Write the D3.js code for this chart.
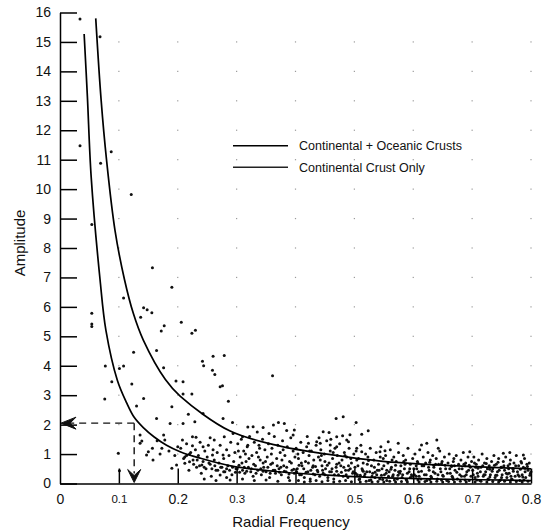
<!DOCTYPE html>
<html>
<head>
<meta charset="utf-8">
<script src="https://cdn.jsdelivr.net/npm/d3@7"></script>
<style>
  body { margin: 0; background: #fff; }
  svg { display: block; font-family: "Liberation Sans", Arial, sans-serif; }
</style>
</head>
<body>
<svg id="chart" width="547" height="532"></svg>
<script>
// values
const xTicks = [0, 0.1, 0.2, 0.3, 0.4, 0.5, 0.6, 0.7, 0.8];
const yTicks = d3.range(0, 17);

// Continental + Oceanic Crusts (outer curve)
const outerCurve = [
    [0.0607, 15.8], [0.0698, 13.04], [0.079, 11.0], [0.0934, 8.6], [0.1095, 6.93],
    [0.1245, 5.78], [0.1415, 4.87], [0.179, 3.53], [0.204, 2.97], [0.289, 1.78],
    [0.374, 1.27], [0.46, 0.98], [0.545, 0.76], [0.64, 0.63], [0.8, 0.5]
];

// Continental Crust Only (inner curve)
const innerCurve = [
    [0.041, 15.27], [0.0465, 13.15], [0.053, 10.4], [0.068, 6.93], [0.078, 5.2],
    [0.0975, 3.5], [0.113, 2.75], [0.126, 2.25], [0.1415, 1.9], [0.16, 1.58],
    [0.181, 1.3], [0.204, 1.08], [0.238, 0.86], [0.29, 0.6], [0.37, 0.4],
    [0.47, 0.27], [0.545, 0.2], [0.65, 0.15], [0.8, 0.1]
];

// the dashed read-off arrow
const arrowPoint = [0.126, 2.05];

const legendNames = ["Continental + Oceanic Crusts", "Continental Crust Only"];

// scatter of observed amplitudes
const sparsePoints = [
    [0.034,15.78],[0.068,15.18],[0.034,11.47],[0.087,11.27],[0.069,10.88],[0.121,9.82],[0.054,8.8],
    [0.157,7.33],[0.19,6.67],[0.108,6.3],[0.142,5.97],[0.148,5.9],[0.156,5.8],[0.054,5.78],[0.137,5.65],
    [0.054,5.42],[0.054,5.33],[0.177,5.36],[0.206,5.48],[0.172,5.18],[0.23,5.21],[0.224,5.1],[0.125,4.46],
    [0.164,4.52],[0.242,4.15],[0.244,4.0],[0.26,4.32],[0.279,4.35],[0.259,3.85],[0.263,3.7],[0.077,3.99],
    [0.101,3.91],[0.108,3.99],[0.176,3.93],[0.361,3.66],[0.197,3.48],[0.209,3.46],[0.276,3.32],[0.209,3.04],
    [0.224,3.04],[0.286,2.79],[0.076,2.87],[0.122,3.38],[0.088,3.46],[0.142,2.89],[0.13,2.63],[0.164,2.21],
    [0.19,2.61],[0.272,3.29],[0.243,2.38],[0.218,2.35],[0.277,2.21],[0.293,2.07],[0.229,2.1],[0.187,2.04],
    [0.209,2.04],[0.099,1.03],[0.101,0.43],[0.136,1.37],[0.139,1.44],[0.136,1.65],[0.147,0.97],[0.158,0.8],
    [0.15,1.08],[0.157,1.2],[0.173,1.2],[0.178,1.48],[0.176,1.65],[0.208,1.48],[0.225,1.59],[0.198,0.63],
    [0.19,0.52],[0.212,0.69],[0.22,0.74],[0.241,0.63],[0.272,0.29],[0.259,0.97],[0.277,0.97],[0.231,1.57],
    [0.255,1.55],[0.225,1.28],[0.243,1.25],[0.262,1.48],[0.279,1.59],[0.294,1.7],[0.31,1.59],[0.289,0.12],
    [0.319,1.92],[0.328,1.93],[0.345,1.9],[0.371,2.07],[0.381,2.04],[0.3625,1.99],[0.398,1.82],[0.396,1.65],
    [0.469,2.21],[0.481,2.27],[0.503,2.07],[0.447,1.76],[0.457,1.73],[0.4925,1.66],[0.5125,1.67],[0.5235,1.79],
    [0.47,1.59],[0.5575,1.42],[0.5745,1.37],[0.614,1.31],[0.623,1.37],[0.64,1.48],[0.6425,1.2],[0.696,1.08],
    [0.753,1.03],[0.764,1.05],[0.787,0.97],[0.422,1.37],[0.436,1.42],[0.442,1.37],[0.459,1.31],[0.47,1.25],
    [0.487,1.48],[0.49,1.42],[0.504,1.2],[0.5125,1.08],[0.5435,1.08],[0.552,1.11]
];

const densePoints = [
    // 0.2 - 0.3
    [0.205,1.2],[0.212,0.9],[0.215,1.35],[0.219,0.45],[0.222,1.05],[0.226,0.8],[0.23,1.15],[0.232,0.55],
    [0.235,0.95],[0.238,1.4],[0.24,0.35],[0.243,0.75],[0.246,1.1],[0.248,0.5],[0.25,0.9],[0.252,1.3],
    [0.255,0.65],[0.257,0.25],[0.26,1.15],[0.262,0.8],[0.265,0.45],[0.267,1.05],[0.27,0.7],[0.272,1.3],
    [0.275,0.55],[0.278,0.85],[0.28,0.4],[0.283,1.15],[0.285,0.6],[0.287,0.95],[0.29,1.4],[0.292,0.3],
    [0.295,0.75],[0.297,1.05],[0.299,0.5],[0.245,0.15],[0.265,0.1],[0.283,0.2],
    // 0.3 - 0.4
    [0.302,1.35],[0.304,0.62],[0.306,0.9],[0.308,1.5],[0.31,0.45],[0.312,1.1],[0.314,0.35],[0.316,0.75],
    [0.318,1.25],[0.32,0.55],[0.322,1.6],[0.324,0.4],[0.326,0.95],[0.328,0.25],[0.33,1.4],[0.332,0.6],
    [0.334,1.05],[0.336,0.45],[0.338,1.3],[0.34,0.8],[0.342,0.3],[0.344,1.5],[0.346,0.55],[0.348,1.15],
    [0.35,0.4],[0.352,0.9],[0.354,1.35],[0.356,0.2],[0.358,0.65],[0.36,1.2],[0.362,0.45],[0.364,1.6],
    [0.366,0.35],[0.368,0.85],[0.37,1.3],[0.372,0.5],[0.374,1.05],[0.376,0.3],[0.378,1.45],[0.38,0.6],
    [0.382,0.95],[0.384,0.4],[0.386,1.25],[0.388,0.2],[0.39,0.75],[0.392,1.55],[0.394,0.45],[0.396,1.1],
    [0.398,0.35],[0.31,0.15],[0.33,0.1],[0.35,0.12],[0.37,0.08],[0.39,0.1],[0.335,1.75],[0.355,1.7],
    [0.385,1.8],[0.315,1.0],[0.345,0.7],[0.375,0.55],
    // 0.4 - 0.5
    [0.401,1.2],[0.403,0.5],[0.405,0.85],[0.407,0.3],[0.409,1.4],[0.411,0.6],[0.413,1.05],[0.415,0.2],
    [0.417,0.75],[0.419,1.25],[0.421,0.4],[0.423,0.95],[0.425,0.15],[0.427,1.1],[0.429,0.55],[0.431,0.8],
    [0.433,0.3],[0.435,1.3],[0.437,0.45],[0.439,0.9],[0.441,0.25],[0.443,1.15],[0.445,0.6],[0.447,0.35],
    [0.449,1.0],[0.451,0.5],[0.453,1.45],[0.455,0.2],[0.457,0.7],[0.459,1.1],[0.461,0.4],[0.463,0.85],
    [0.465,0.15],[0.467,1.2],[0.469,0.55],[0.471,0.95],[0.473,0.3],[0.475,1.35],[0.477,0.6],[0.479,0.8],
    [0.481,0.25],[0.483,1.05],[0.485,0.45],[0.487,0.9],[0.489,0.2],[0.491,1.2],[0.493,0.5],[0.495,0.7],
    [0.497,0.35],[0.499,1.0],[0.405,0.1],[0.415,0.05],[0.425,0.08],[0.435,0.1],[0.445,0.06],[0.455,0.1],
    [0.465,0.05],[0.475,0.08],[0.485,0.1],[0.495,0.06],[0.41,0.7],[0.43,0.6],[0.45,0.75],[0.47,0.65],
    [0.49,0.6],[0.42,1.6],[0.44,1.55],[0.46,1.5],[0.48,1.62],
    // 0.5 - 0.6
    [0.501,0.55],[0.503,1.1],[0.505,0.3],[0.507,0.85],[0.509,0.15],[0.511,1.3],[0.513,0.5],[0.515,0.7],
    [0.517,0.25],[0.519,1.0],[0.521,0.4],[0.523,0.9],[0.525,0.1],[0.527,1.2],[0.529,0.6],[0.531,0.35],
    [0.533,0.8],[0.535,0.2],[0.537,1.05],[0.539,0.45],[0.541,0.65],[0.543,0.15],[0.545,1.25],[0.547,0.5],
    [0.549,0.85],[0.551,0.3],[0.553,0.95],[0.555,0.1],[0.557,0.7],[0.559,0.4],[0.561,1.15],[0.563,0.55],
    [0.565,0.25],[0.567,0.9],[0.569,0.45],[0.571,0.75],[0.573,0.15],[0.575,1.05],[0.577,0.35],[0.579,0.6],
    [0.581,0.2],[0.583,0.95],[0.585,0.5],[0.587,0.8],[0.589,0.1],[0.591,1.2],[0.593,0.4],[0.595,0.65],
    [0.597,0.3],[0.599,0.85],[0.51,0.05],[0.52,0.08],[0.53,0.05],[0.54,0.07],[0.55,0.05],[0.56,0.08],
    [0.57,0.05],[0.58,0.07],[0.59,0.05],[0.515,0.42],[0.535,0.38],[0.555,0.45],[0.575,0.4],[0.595,0.2],
    // 0.6 - 0.7
    [0.601,0.5],[0.603,1.0],[0.605,0.25],[0.607,0.75],[0.609,0.4],[0.611,1.15],[0.613,0.15],[0.615,0.6],
    [0.617,0.9],[0.619,0.3],[0.621,0.7],[0.623,0.1],[0.625,1.05],[0.627,0.45],[0.629,0.8],[0.631,0.2],
    [0.633,0.95],[0.635,0.55],[0.637,0.35],[0.639,0.85],[0.641,0.15],[0.643,0.65],[0.645,1.1],[0.647,0.4],
    [0.649,0.75],[0.651,0.25],[0.653,0.9],[0.655,0.5],[0.657,0.1],[0.659,0.7],[0.661,1.0],[0.663,0.35],
    [0.665,0.6],[0.667,0.2],[0.669,0.85],[0.671,0.45],[0.673,0.95],[0.675,0.15],[0.677,0.65],[0.679,0.3],
    [0.681,0.8],[0.683,0.5],[0.685,1.05],[0.687,0.25],[0.689,0.7],[0.691,0.4],[0.693,0.9],[0.695,0.1],
    [0.697,0.55],[0.699,0.75],[0.61,0.05],[0.62,0.07],[0.63,0.05],[0.64,0.08],[0.65,0.05],[0.66,0.07],
    [0.67,0.05],[0.68,0.08],[0.69,0.05],[0.605,0.6],[0.635,0.62],[0.665,0.58],[0.695,0.62],
    // 0.7 - 0.8
    [0.701,0.45],[0.703,0.9],[0.705,0.2],[0.707,0.65],[0.709,0.35],[0.711,0.8],[0.713,0.1],[0.715,0.55],
    [0.717,1.0],[0.719,0.25],[0.721,0.7],[0.723,0.4],[0.725,0.85],[0.727,0.15],[0.729,0.6],[0.731,0.3],
    [0.733,0.75],[0.735,0.5],[0.737,0.95],[0.739,0.2],[0.741,0.65],[0.743,0.4],[0.745,0.85],[0.747,0.1],
    [0.749,0.55],[0.751,0.3],[0.753,0.75],[0.755,0.45],[0.757,0.9],[0.759,0.2],[0.761,0.6],[0.763,0.35],
    [0.765,0.8],[0.767,0.15],[0.769,0.5],[0.771,0.7],[0.773,0.25],[0.775,0.95],[0.777,0.4],[0.779,0.6],
    [0.781,0.1],[0.783,0.75],[0.785,0.3],[0.787,0.55],[0.789,0.85],[0.791,0.2],[0.793,0.65],[0.795,0.45],
    [0.797,0.7],[0.799,0.35],[0.705,0.05],[0.715,0.08],[0.725,0.05],[0.735,0.07],[0.745,0.05],[0.755,0.08],
    [0.765,0.05],[0.775,0.07],[0.785,0.05],[0.795,0.08],[0.71,0.52],[0.73,0.48],[0.75,0.55],[0.77,0.5],
    [0.79,0.52],[0.72,0.3],[0.74,0.28],[0.76,0.32],[0.78,0.25],[0.8,0.4]
];

// the thick band hugging the two curves
const bandPoints = [
    [0.165,1.45],[0.17,1.0],[0.185,1.1],[0.195,0.95],[0.2,1.25],[0.21,0.85],[0.215,0.95],[0.22,1.0],
    [0.227,0.65],[0.233,0.8],[0.237,0.6],[0.245,0.55],[0.253,0.7],[0.258,0.5],[0.263,0.6],[0.268,0.45],
    [0.273,0.55],[0.278,0.4],[0.283,0.5],[0.288,0.45],[0.293,0.55],[0.298,0.38],
    [0.301,0.5],[0.305,0.38],[0.309,0.7],[0.313,0.55],[0.317,0.42],[0.321,0.85],[0.325,0.5],[0.329,0.65],
    [0.333,0.35],[0.337,0.9],[0.341,0.5],[0.345,0.42],[0.349,0.75],[0.353,0.55],[0.357,0.35],[0.361,0.7],
    [0.365,0.45],[0.369,0.6],[0.373,0.38],[0.377,0.8],[0.381,0.42],[0.385,0.55],[0.389,0.32],[0.393,0.7],
    [0.397,0.48],[0.303,1.1],[0.319,1.3],[0.339,1.2],[0.359,1.0],[0.379,1.15],[0.399,0.9],
    [0.402,0.4],[0.406,0.62],[0.41,0.3],[0.414,0.5],[0.418,0.38],[0.422,0.7],[0.426,0.45],[0.43,0.32],
    [0.434,0.58],[0.438,0.4],[0.442,0.8],[0.446,0.45],[0.45,0.3],[0.454,0.62],[0.458,0.4],[0.462,0.5],
    [0.466,0.3],[0.47,0.42],[0.474,0.7],[0.478,0.38],[0.482,0.55],[0.486,0.3],[0.49,0.45],[0.494,0.85],
    [0.498,0.4],[0.404,1.0],[0.424,1.1],[0.444,0.95],[0.464,1.05],[0.484,0.95],
    [0.502,0.35],[0.506,0.6],[0.51,0.28],[0.514,0.45],[0.518,0.32],[0.522,0.65],[0.526,0.4],[0.53,0.25],
    [0.534,0.55],[0.538,0.3],[0.542,0.45],[0.546,0.28],[0.55,0.6],[0.554,0.35],[0.558,0.25],[0.562,0.48],
    [0.566,0.3],[0.57,0.62],[0.574,0.28],[0.578,0.42],[0.582,0.3],[0.586,0.65],[0.59,0.35],[0.594,0.5],
    [0.598,0.25],[0.504,0.8],[0.524,0.78],[0.544,0.9],[0.564,0.8],[0.584,0.75],
    [0.602,0.3],[0.606,0.5],[0.61,0.25],[0.614,0.42],[0.618,0.6],[0.622,0.3],[0.626,0.55],[0.63,0.25],
    [0.634,0.4],[0.638,0.65],[0.642,0.3],[0.646,0.5],[0.65,0.28],[0.654,0.62],[0.658,0.35],[0.662,0.5],
    [0.666,0.25],[0.67,0.6],[0.674,0.38],[0.678,0.5],[0.682,0.25],[0.686,0.65],[0.69,0.3],[0.694,0.45],
    [0.698,0.25],[0.608,0.7],[0.628,0.72],[0.648,0.68],[0.668,0.75],[0.688,0.6],
    [0.702,0.3],[0.706,0.55],[0.71,0.25],[0.714,0.4],[0.718,0.6],[0.722,0.3],[0.726,0.5],[0.73,0.22],
    [0.734,0.42],[0.738,0.62],[0.742,0.28],[0.746,0.45],[0.75,0.2],[0.754,0.6],[0.758,0.35],[0.762,0.5],
    [0.766,0.25],[0.77,0.42],[0.774,0.6],[0.778,0.3],[0.782,0.48],[0.786,0.22],[0.79,0.4],[0.794,0.58],
    [0.798,0.28],[0.704,0.7],[0.724,0.68],[0.744,0.72],[0.764,0.66],[0.784,0.7],
    [0.508,0.14],[0.528,0.12],[0.548,0.14],[0.568,0.12],[0.588,0.14],[0.608,0.12],[0.628,0.14],[0.648,0.12],
    [0.668,0.14],[0.688,0.12],[0.708,0.12],[0.728,0.14],[0.748,0.12],[0.768,0.14],[0.788,0.12]
];

const svg = d3.select("#chart");

const x = d3.scaleLinear().domain([0, 0.8]).range([60, 531]);
const y = d3.scaleLinear().domain([0, 16]).range([483.5, 12.5]);

// faint dotted grid, only the crossings survive in the scan
const gridCross = [];
xTicks.slice(1).forEach(fx => yTicks.slice(1, 16).forEach(ay => gridCross.push([fx, ay])));
svg.append("g")
    .selectAll("rect")
    .data(gridCross)
    .join("rect")
    .attr("x", d => x(d[0]) - 0.6)
    .attr("y", d => y(d[1]) - 0.6)
    .attr("width", 1.2)
    .attr("height", 1.2)
    .attr("fill", "#9a9a9a");

// scatter
svg.append("g")
    .selectAll("circle")
    .data(sparsePoints.concat(densePoints, bandPoints))
    .join("circle")
    .attr("cx", d => x(d[0]))
    .attr("cy", d => y(d[1]))
    .attr("r", 1.5)
    .attr("fill", "#111");

// curves
const line = d3.line()
    .x(d => x(d[0]))
    .y(d => y(d[1]))
    .curve(d3.curveCatmullRom.alpha(0.5));

svg.append("path")
    .datum(outerCurve)
    .attr("d", line)
    .attr("fill", "none")
    .attr("stroke", "#000")
    .attr("stroke-width", 1.7);

svg.append("path")
    .datum(innerCurve)
    .attr("d", line)
    .attr("fill", "none")
    .attr("stroke", "#000")
    .attr("stroke-width", 1.7);

// axes
const yAxis = d3.axisLeft(y)
    .tickValues(yTicks)
    .tickFormat(d3.format("d"))
    .tickSize(-17)
    .tickSizeOuter(0)
    .tickPadding(9);

const gy = svg.append("g")
    .attr("transform", `translate(${x(0)},0)`)
    .call(yAxis);
gy.selectAll("text").attr("font-size", 14).attr("fill", "#111");

const xAxis = d3.axisBottom(x)
    .tickValues(xTicks)
    .tickFormat(d => d === 0 ? "0" : d3.format(".1f")(d))
    .tickSize(-15)
    .tickSizeOuter(0)
    .tickPadding(11);

const gx = svg.append("g")
    .attr("transform", `translate(0,${y(0)})`)
    .call(xAxis);
// odd tenths came out smaller in the print
gx.selectAll("text")
    .attr("font-size", (d, i) => i % 2 ? 11.5 : 14)
    .attr("fill", "#111");
gx.selectAll(".tick").filter(d => d === 0).select("line").remove();

svg.selectAll(".domain, .tick line")
    .attr("stroke", "#000")
    .attr("stroke-width", 1.5);

// axis titles
svg.append("text")
    .attr("x", 291)
    .attr("y", 527)
    .attr("text-anchor", "middle")
    .attr("font-size", 15)
    .attr("fill", "#111")
    .text("Radial Frequency");

svg.append("text")
    .attr("transform", "translate(25,243) rotate(-90)")
    .attr("text-anchor", "middle")
    .attr("font-size", 15)
    .attr("fill", "#111")
    .text("Amplitude");

// dashed read-off lines with arrow heads
const ax = x(arrowPoint[0]);
const ay = y(arrowPoint[1]);
const arrows = svg.append("g").attr("stroke", "#111").attr("fill", "none");

arrows.append("line")
    .attr("x1", ax).attr("y1", ay)
    .attr("x2", x(0) + 6).attr("y2", ay)
    .attr("stroke-width", 1.4)
    .attr("stroke-dasharray", "7,5");

arrows.append("line")
    .attr("x1", ax).attr("y1", ay)
    .attr("x2", ax).attr("y2", y(0) - 10)
    .attr("stroke-width", 1.4)
    .attr("stroke-dasharray", "7,5");

arrows.append("path")
    .attr("d", `M${x(0) + 16},${ay - 6} L${x(0) + 1},${ay} L${x(0) + 16},${ay + 6} L${x(0) + 10},${ay} Z`)
    .attr("fill", "#111")
    .attr("stroke-width", 1);

arrows.append("path")
    .attr("d", `M${ax - 6.5},${y(0) - 14} L${ax},${y(0) - 1} L${ax + 6.5},${y(0) - 14} L${ax},${y(0) - 8} Z`)
    .attr("fill", "#111")
    .attr("stroke-width", 1);

// legend
const legend = svg.append("g");
legendNames.forEach((name, i) => {
    const ly = 145.7 + i * 21.6;
    legend.append("line")
        .attr("x1", 233).attr("x2", 288)
        .attr("y1", ly).attr("y2", ly)
        .attr("stroke", i ? "#222" : "#000")
        .attr("stroke-width", 1.6);
    legend.append("text")
        .attr("x", 299)
        .attr("y", ly + 4.5)
        .attr("font-size", 12.5)
        .attr("fill", "#111")
        .text(name);
});
</script>
</body>
</html>
